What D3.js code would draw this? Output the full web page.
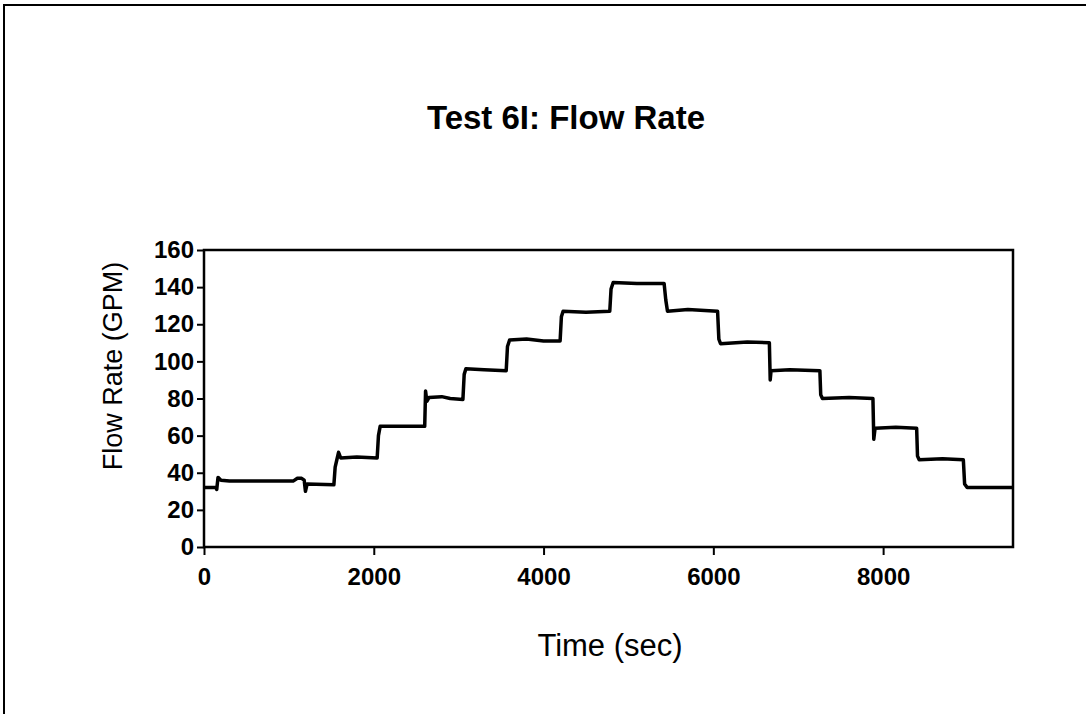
<!DOCTYPE html>
<html>
<head>
<meta charset="utf-8">
<script src="https://cdn.jsdelivr.net/npm/d3@7"></script>
<style>
  body { margin: 0; background: #fff; }
  svg { display: block; }
</style>
</head>
<body>
<div id="chart"></div>
<script>
// Test 6I flow rate record
var timeSec = [0, 140, 150, 165, 200, 300, 1050, 1100, 1150, 1180, 1195, 1215, 1530, 1545, 1565, 1585, 1610, 1800, 2040,
  2055, 2075, 2600, 2610, 2625, 2650, 2800, 2900, 3050, 3065, 3085, 3300, 3560, 3575, 3600, 3800, 4000, 4195,
  4210, 4230, 4500, 4780, 4795, 4820, 5100, 5420, 5440, 5460, 5700, 6050, 6065, 6085, 6400, 6660, 6670, 6680,
  6900, 7255, 7265, 7285, 7600, 7880, 7890, 7905, 8150, 8395, 8405, 8425, 8700, 8945, 8960, 8990, 9520];
var flowGpm = [32, 32, 31, 37.5, 36, 35.5, 35.5, 37, 37, 36, 30, 34, 33.5, 43, 47, 51, 48, 48.5, 48,
  60, 65, 65, 84, 78.5, 80.5, 81, 80, 79.5, 93, 96, 95.5, 95, 108, 111.5, 112, 111, 111,
  124, 127, 126.5, 127, 139, 142.5, 142, 142, 133, 127, 128, 127, 112, 109.5, 110.5, 110, 90, 95,
  95.5, 95, 82, 80, 80.5, 80, 58, 64, 64.5, 64, 49, 47, 47.5, 47, 34, 32, 32];

var xTicks = [0, 2000, 4000, 6000, 8000];
var yTicks = [0, 20, 40, 60, 80, 100, 120, 140, 160];

var attrs = {
  svgWidth: 1086,
  svgHeight: 714,
  plotLeft: 204,
  plotRight: 1013,
  plotTop: 250,
  plotBottom: 547,
  font: 'Arial, "Liberation Sans", sans-serif'
};

var svg = d3.select('#chart').append('svg')
  .attr('width', attrs.svgWidth)
  .attr('height', attrs.svgHeight)
  .attr('font-family', attrs.font);

// outer chart frame (right/bottom edges fall outside the page)
svg.append('rect')
  .attr('x', 4).attr('y', 5)
  .attr('width', 1120).attr('height', 760)
  .attr('fill', 'none')
  .attr('stroke', '#000')
  .attr('stroke-width', 2);

var x = d3.scaleLinear().domain([0, 9530]).range([attrs.plotLeft, attrs.plotRight]);
var y = d3.scaleLinear().domain([0, 160]).range([attrs.plotBottom, attrs.plotTop]);

// title
svg.append('text')
  .attr('x', 566).attr('y', 129)
  .attr('text-anchor', 'middle')
  .attr('font-weight', 'bold')
  .attr('font-size', 33)
  .text('Test 6I: Flow Rate');

// plot frame
svg.append('rect')
  .attr('x', attrs.plotLeft).attr('y', attrs.plotTop)
  .attr('width', attrs.plotRight - attrs.plotLeft)
  .attr('height', attrs.plotBottom - attrs.plotTop)
  .attr('fill', 'none')
  .attr('stroke', '#000')
  .attr('stroke-width', 2.5);

// axes
var xAxis = svg.append('g')
  .attr('transform', 'translate(0,' + attrs.plotBottom + ')')
  .call(d3.axisBottom(x).tickValues(xTicks).tickFormat(d3.format('d'))
    .tickSize(8).tickSizeOuter(0).tickPadding(13));

var yAxis = svg.append('g')
  .attr('transform', 'translate(' + attrs.plotLeft + ',0)')
  .call(d3.axisLeft(y).tickValues(yTicks).tickFormat(d3.format('d'))
    .tickSize(7).tickSizeOuter(0).tickPadding(3));

[xAxis, yAxis].forEach(function (g) {
  g.select('.domain').remove();
  g.selectAll('.tick line').attr('stroke', '#000').attr('stroke-width', 2);
  g.selectAll('.tick text')
    .attr('fill', '#000')
    .attr('font-family', attrs.font)
    .attr('font-weight', 'bold')
    .attr('font-size', 24);
});

// axis titles
svg.append('text')
  .attr('x', 610).attr('y', 656)
  .attr('text-anchor', 'middle')
  .attr('font-size', 31)
  .text('Time (sec)');

svg.append('text')
  .attr('transform', 'translate(122,366) rotate(-90)')
  .attr('text-anchor', 'middle')
  .attr('font-size', 27)
  .text('Flow Rate (GPM)');

// flow line
var points = timeSec.map(function (t, i) { return [t, flowGpm[i]]; });

var line = d3.line()
  .x(function (d) { return x(d[0]); })
  .y(function (d) { return y(d[1]); });

svg.append('path')
  .datum(points)
  .attr('d', line)
  .attr('fill', 'none')
  .attr('stroke', '#000')
  .attr('stroke-width', 3.5)
  .attr('stroke-linejoin', 'round');
</script>
</body>
</html>
